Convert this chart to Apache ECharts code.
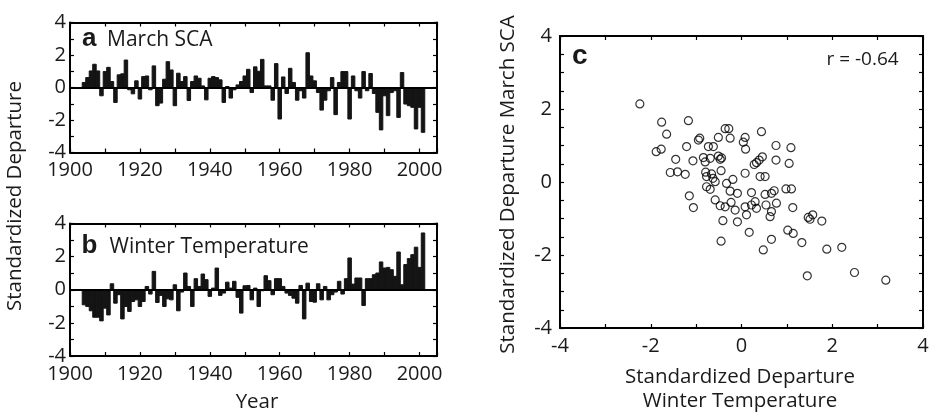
<!DOCTYPE html>
<html>
<head>
<meta charset="utf-8">
<script src="https://cdn.jsdelivr.net/npm/echarts@6/dist/echarts.min.js"></script>
<style>
html,body{margin:0;padding:0;background:#fff;}
#c{width:932px;height:413px;}
</style>
</head>
<body>
<div id="c"></div>
<script>
// ---------- data ----------
const years = [1904,1905,1906,1907,1908,1909,1910,1911,1912,1913,1914,1915,1916,1917,1918,1919,
1920,1921,1922,1923,1924,1925,1926,1927,1928,1929,1930,1931,1932,1933,1934,1935,1936,1937,1938,1939,
1940,1941,1942,1943,1944,1945,1946,1947,1948,1949,1950,1951,1952,1953,1954,1955,1956,1957,1958,1959,
1960,1961,1962,1963,1964,1965,1966,1967,1968,1969,1970,1971,1972,1973,1974,1975,1976,1977,1978,1979,
1980,1981,1982,1983,1984,1985,1986,1987,1988,1989,1990,1991,1992,1993,1994,1995,1996,1997,1998,1999,
2000,2001];

// Panel a: March snow cover area, standardized departure
const marchSCA = [0.31,0.61,1.02,1.43,1.02,-0.51,0.98,1.24,0.37,-0.92,
0.78,0.84,1.69,-0.14,-0.39,0.41,-0.71,0.67,0.71,-0.14,
1.33,-1.12,-0.96,0.51,1.59,1.08,-1.12,0.88,0.37,0.67,
-0.80,0.37,0.71,0.57,0.10,-0.76,0.57,0.67,0.61,0.47,
-0.92,0.06,-0.65,-0.14,0.16,0.37,
0.71,1.12,-0.31,1.27,1.0,1.73,0.1,0.1,-0.78,1.47,
-1.94,0.65,-0.37,1.18,0.31,-0.78,-0.2,-0.65,2.14,0.71,
0.41,-0.31,-1.39,-0.78,-0.2,0.61,-1.67,0.31,0.98,0.98,
-1.94,0.71,-0.2,-0.65,0.98,-0.2,0.86,-0.37,-1.53,-2.61,
-0.51,-1.73,-0.31,-0.2,-1.84,0.92,-1.02,-1.12,-1.22,-2.55,
-1.22,-2.76];

// Panel b: winter temperature, standardized departure
const winterTemp = [-0.91,-1.01,-1.27,-1.66,-1.66,-1.88,-1.11,-1.52,0.36,-0.81,
-0.30,-1.76,-1.01,-1.31,-0.71,-0.61,-1.01,-0.71,0.20,-0.26,
1.11,-0.77,-0.34,-1.01,-0.55,-0.61,0.30,-1.27,-0.14,1.01,
0.20,-1.01,0.67,0.20,0.95,0.61,-0.40,0.10,1.31,-0.34,
-0.20,0.46,0.10,0.51,-0.46,-1.41,
0.24,0.26,-0.61,0.10,-1.01,-0.06,0.85,0.55,-0.30,0.67,
0.67,0.20,-0.20,-0.34,-0.51,-0.81,0.26,-1.76,0.40,-0.71,
-0.75,0.36,-0.61,0.20,-0.61,-0.30,-0.14,0.51,-0.26,0.67,
1.92,0.34,0.71,0.71,-0.95,0.67,0.67,0.91,1.01,1.68,
1.31,1.35,1.21,0.81,2.28,0.30,1.52,1.88,2.12,2.57,
1.35,3.43];

// Panel c: scatter (winter temperature vs March SCA)
const scatterTemp = [-2.24,-1.76,-1.17,-1.65,-1.88,-1.77,-1.21,-0.95,-0.92,-0.51,
-0.36,-0.28,-0.25,-0.73,-0.62,-1.45,-1.07,-0.84,-0.69,-0.80,
-0.51,-0.47,-0.44,-1.57,-1.41,-1.24,-0.79,-0.77,-0.66,-0.63,
-0.77,-0.69,-0.58,-0.45,-0.33,-0.19,-0.25,-0.09,-1.15,-1.06,
-0.58,-0.47,-0.36,-0.23,-0.14,-0.41,-0.09,-0.45,0.08,0.44,
0.04,0.09,0.76,1.09,0.76,1.05,0.33,0.39,0.46,0.28,
0.08,0.41,0.52,0.22,0.52,0.66,0.72,0.98,1.10,0.08,
0.11,0.30,0.33,0.54,0.66,0.77,0.63,1.13,1.47,1.57,
1.51,1.77,0.22,0.17,0.66,0.48,1.02,1.14,1.33,1.88,
2.21,1.45,2.49,3.18];
const scatterSCA = [2.14,1.64,1.68,1.31,0.83,0.90,0.97,1.15,1.20,1.22,
1.46,1.46,1.20,0.97,0.97,0.62,0.58,0.67,0.65,0.55,
0.71,0.62,0.66,0.26,0.28,0.21,0.27,0.15,0.22,0.10,
-0.13,-0.20,0.01,0.31,-0.04,0.07,-0.25,-0.31,-0.38,-0.70,
-0.49,-0.65,-0.68,-0.56,-0.77,-1.06,-1.09,-1.62,1.22,1.38,
1.09,0.90,1.00,0.94,0.60,0.51,0.53,0.60,0.69,0.48,
0.24,0.15,0.15,-0.29,-0.34,-0.31,-0.24,-0.19,-0.19,-0.68,
-0.90,-0.54,-0.72,-0.63,-0.81,-0.58,-0.95,-0.70,-0.97,-0.90,
-1.02,-1.07,-0.63,-1.38,-1.57,-1.86,-1.32,-1.41,-1.66,-1.84,
-1.79,-2.57,-2.48,-2.69];

const yTicksAB = [-4,-2,0,2,4];
const xTicksAB = [1900,1920,1940,1960,1980,2000];
const ticksC = [-4,-2,0,2,4];
const rLabel = 'r = -0.64';

// ---------- chart ----------
const FONT = "'Open Sans', 'Noto Sans', sans-serif";
const BOLD = "'Liberation Sans', Arial, sans-serif";
const INK = '#1a1a1a';

const chart = echarts.init(document.getElementById('c'), null, {renderer: 'canvas'});

function axisBase(extra) {
  return Object.assign({
    type: 'value',
    axisLine: {show: true, onZero: false, lineStyle: {color: '#000', width: 2}},
    axisTick: {show: true, inside: true, length: 4, lineStyle: {color: '#000', width: 1.2}},
    splitLine: {show: false},
    axisLabel: {show: false}
  }, extra);
}
function lbl(ticks, margin) {
  return {
    show: true, margin: margin, color: INK, fontFamily: FONT, fontSize: 20,
    showMinLabel: true, showMaxLabel: true,
    formatter: v => ticks.indexOf(Math.round(v * 1000) / 1000) >= 0 ? String(v) : ''
  };
}

const xAxis = [
  axisBase({gridIndex: 0, position: 'bottom', min: 1900, max: 2005, interval: 10, axisLabel: lbl(xTicksAB, 8)}),
  axisBase({gridIndex: 0, position: 'top', min: 1900, max: 2005, interval: 10}),
  axisBase({gridIndex: 1, position: 'bottom', min: 1900, max: 2005, interval: 10, axisLabel: lbl(xTicksAB, 8)}),
  axisBase({gridIndex: 1, position: 'top', min: 1900, max: 2005, interval: 10}),
  axisBase({gridIndex: 2, position: 'bottom', min: -4, max: 4, interval: 1, axisLabel: lbl(ticksC, 8)}),
  axisBase({gridIndex: 2, position: 'top', min: -4, max: 4, interval: 1})
];
const yAxis = [
  axisBase({gridIndex: 0, position: 'left', min: -4, max: 4, interval: 1, axisLabel: lbl(yTicksAB, 4)}),
  axisBase({gridIndex: 0, position: 'right', min: -4, max: 4, interval: 1}),
  axisBase({gridIndex: 1, position: 'left', min: -4, max: 4, interval: 1, axisLabel: lbl(yTicksAB, 4)}),
  axisBase({gridIndex: 1, position: 'right', min: -4, max: 4, interval: 1}),
  axisBase({gridIndex: 2, position: 'left', min: -4, max: 4, interval: 0.5, axisLabel: lbl(ticksC, 8)}),
  axisBase({gridIndex: 2, position: 'right', min: -4, max: 4, interval: 0.5})
];

const zeroLine = {
  silent: true, symbol: 'none', animation: false,
  label: {show: false},
  lineStyle: {color: '#000', width: 2, type: 'solid'},
  data: [{yAxis: 0}]
};

// year bars drawn through the cartesian scale (api.coord), one year wide
function yearBar(params, api) {
  const yr = api.value(0), v = api.value(1);
  const p0 = api.coord([yr - 0.5, 0]);
  const p1 = api.coord([yr + 0.5, v]);
  return {
    type: 'rect',
    shape: {x: p0[0], y: Math.min(p0[1], p1[1]), width: (p1[0] - p0[0]), height: Math.abs(p1[1] - p0[1])},
    style: {fill: '#141414', stroke: '#141414', lineWidth: 1}
  };
}

function txt(x, y, text, font, opts) {
  return {
    type: 'text', x: x, y: y, silent: true,
    style: Object.assign({
      text: text, font: font, fill: INK,
      align: 'left', verticalAlign: 'middle',
      textAlign: 'left', textVerticalAlign: 'middle'
    }, opts || {})
  };
}

const option = {
  animation: false,
  backgroundColor: '#fff',
  grid: [
    {left: 70, top: 22.5, width: 367, height: 130},
    {left: 70, top: 223.5, width: 367, height: 132.5},
    {left: 560, top: 36, width: 363, height: 292}
  ],
  xAxis: xAxis,
  yAxis: yAxis,
  series: [
    {type: 'custom', coordinateSystem: 'cartesian2d', xAxisIndex: 0, yAxisIndex: 0,
     renderItem: yearBar, encode: {x: 0, y: 1}, clip: true,
     data: years.map((y, i) => [y, marchSCA[i]]), markLine: zeroLine},
    {type: 'custom', coordinateSystem: 'cartesian2d', xAxisIndex: 2, yAxisIndex: 2,
     renderItem: yearBar, encode: {x: 0, y: 1}, clip: true,
     data: years.map((y, i) => [y, winterTemp[i]]), markLine: zeroLine},
    {type: 'scatter', xAxisIndex: 4, yAxisIndex: 4, symbol: 'circle', symbolSize: 8,
     itemStyle: {color: 'rgba(255,255,255,0)', borderColor: '#000', borderWidth: 1.2},
     data: scatterTemp.map((x, i) => [x, scatterSCA[i]])}
  ],
  graphic: [
    txt(82, 38.5, 'a', 'bold 26px ' + BOLD),
    txt(107, 40, 'March SCA', '21px ' + FONT),
    txt(81.5, 245.5, 'b', 'bold 26px ' + BOLD),
    txt(109.5, 247.5, 'Winter Temperature', '21px ' + FONT),
    txt(572, 56, 'c', 'bold 28px ' + BOLD),
    txt(826.5, 60, rLabel, '19px ' + FONT),
    txt(257, 402, 'Year', '20.5px ' + FONT, {align: 'center', textAlign: 'center'}),
    txt(740, 377.5, 'Standardized Departure', '20.5px ' + FONT, {align: 'center', textAlign: 'center'}),
    txt(740, 401, 'Winter Temperature', '20.5px ' + FONT, {align: 'center', textAlign: 'center'}),
    Object.assign(txt(15.5, 196, 'Standardized Departure', '20.5px ' + FONT, {align: 'center', textAlign: 'center'}), {rotation: Math.PI / 2}),
    Object.assign(txt(508, 184.5, 'Standardized Departure March SCA', '20.5px ' + FONT, {align: 'center', textAlign: 'center'}), {rotation: Math.PI / 2})
  ]
};
chart.setOption(option);
</script>
</body>
</html>
